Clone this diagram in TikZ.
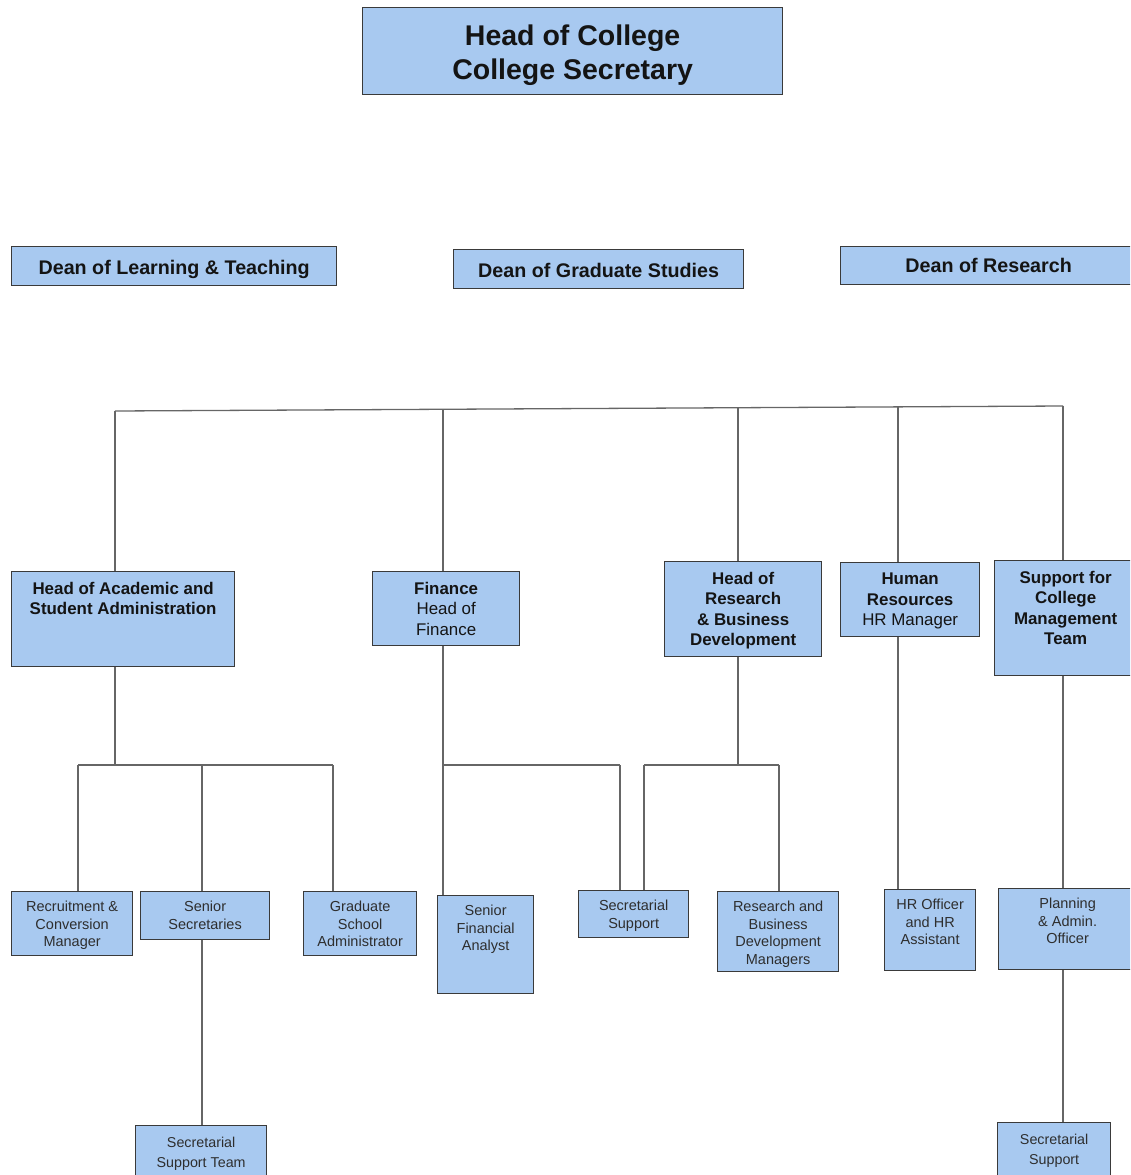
\documentclass[tikz,border=0pt]{standalone}
\usepackage{fontspec}
\setmainfont{Liberation Sans}
\usepackage{xcolor}
\usetikzlibrary{backgrounds}
\definecolor{boxfill}{HTML}{A8C9F0}
\definecolor{boxline}{HTML}{3A3A3A}
\definecolor{linkgray}{HTML}{666666}
\definecolor{textdark}{HTML}{141414}
\definecolor{textgray}{HTML}{2E2E2E}
\newcommand{\headfont}{\fontsize{28.5}{33.5}\selectfont\bfseries}
\newcommand{\deanfont}{\fontsize{19.7}{23}\selectfont\bfseries}
\newcommand{\midfont}{\fontsize{16.9}{20.3}\selectfont}
\newcommand{\lowfont}{\fontsize{14.5}{17.5}\selectfont}
\newcommand{\bottomfont}{\fontsize{14.3}{20}\selectfont}

\begin{document}
\begin{tikzpicture}[x=1pt,y=-1pt,
    unit/.style={draw=boxline,fill=boxfill,line width=1.3pt,inner sep=0pt,anchor=north west},
    headtext/.style={anchor=north,align=center,inner sep=0pt,yshift=-17.7pt,text=textdark,font=\headfont},
    deantext/.style={anchor=north,inner sep=0pt,yshift=-14.5pt,text=textdark,font=\deanfont},
    midtext/.style={anchor=north,align=center,inner sep=0pt,yshift=-11pt,text=textdark,font=\midfont},
    lowtext/.style={anchor=north,align=center,inner sep=0pt,yshift=-10pt,text=textgray,font=\lowfont},
    bottomtext/.style={lowtext,yshift=-2pt,font=\bottomfont}]
    \useasboundingbox (0,0) rectangle (1130,1175);
    \clip (0,0) rectangle (1130,1175);

    % bus lines and joints
    \coordinate (t1) at (115,411);
    \coordinate (t2) at (443,409.3);
    \coordinate (t3) at (738,407.7);
    \coordinate (t4) at (898,406.9);
    \coordinate (t5) at (1063,406);
    \coordinate (m1) at (115,765);
    \coordinate (m1a) at (78,765);
    \coordinate (m1b) at (202,765);
    \coordinate (m1c) at (333,765);
    \coordinate (m2) at (443,765);
    \coordinate (m2b) at (620,765);
    \coordinate (m3) at (738,765);
    \coordinate (m3a) at (644,765);
    \coordinate (m3b) at (779,765);

    % top
    \node[unit,minimum width=420,minimum height=87,
        label={[headtext]north:{Head of College\\College Secretary}}] (head) at (362,7) {};

    % deans
    \node[unit,minimum width=325,minimum height=39,
        label={[deantext]north:{Dean of Learning \& Teaching}}] (dlt) at (11,246) {};
    \node[unit,minimum width=290,minimum height=39,
        label={[deantext]north:{Dean of Graduate Studies}}] (dgs) at (453,249) {};
    \node[unit,minimum width=296,minimum height=38,
        label={[deantext,yshift=2.6pt]north:{Dean of Research}}] (dr) at (840,246) {};

    % heads of sections
    \node[unit,minimum width=223,minimum height=95,
        label={[midtext]north:{\bfseries Head of Academic and\\\bfseries Student Administration}}] (hasa) at (11,571) {};
    \node[unit,minimum width=147,minimum height=74,
        label={[midtext]north:{\bfseries Finance\\Head of\\Finance}}] (fin) at (372,571) {};
    \node[unit,minimum width=157,minimum height=95,
        label={[midtext]north:{\bfseries Head of\\\bfseries Research\\\bfseries \& Business\\\bfseries Development}}] (hrbd) at (664,561) {};
    \node[unit,minimum width=139,minimum height=74,
        label={[midtext]north:{\bfseries Human\\\bfseries Resources\\HR Manager}}] (hr) at (840,562) {};
    \node[unit,minimum width=142,minimum height=115,
        label={[midtext]north:{\bfseries Support for\\\bfseries College\\\bfseries Management\\\bfseries Team}}] (scmt) at (994,560) {};

    % staff
    \node[unit,minimum width=121,minimum height=64,
        label={[lowtext]north:{Recruitment \&\\Conversion\\Manager}}] (rcm) at (11,891) {};
    \node[unit,minimum width=129,minimum height=48,
        label={[lowtext]north:{Senior\\Secretaries}}] (sen) at (140,891) {};
    \node[unit,minimum width=113,minimum height=64,
        label={[lowtext]north:{Graduate\\School\\Administrator}}] (gsa) at (303,891) {};
    \node[unit,minimum width=96,minimum height=98,
        label={[lowtext]north:{Senior\\Financial\\Analyst}}] (sfa) at (437,895) {};
    \node[unit,minimum width=110,minimum height=47,
        label={[lowtext]north:{Secretarial\\Support}}] (ssf) at (578,890) {};
    \node[unit,minimum width=121,minimum height=80,
        label={[lowtext]north:{Research and\\Business\\Development\\Managers}}] (rbdm) at (717,891) {};
    \node[unit,minimum width=91,minimum height=81,
        label={[lowtext]north:{HR Officer\\and HR\\Assistant}}] (hro) at (884,889) {};
    \node[unit,minimum width=138,minimum height=81,
        label={[lowtext]north:{Planning\\\& Admin.\\Officer}}] (pao) at (998,888) {};
    \node[unit,minimum width=131,minimum height=70,
        label={[bottomtext]north:{Secretarial\\Support Team}}] (sst) at (135,1125) {};
    \node[unit,minimum width=113,minimum height=70,
        label={[bottomtext]north:{Secretarial\\Support}}] (ssp) at (997,1122) {};

    % connectors
    \begin{scope}[on background layer,every edge/.style={draw=linkgray,line width=1.3pt}]
        \path (t1) edge (t5)
              (t1) edge (t1 |- hasa.north)
              (t2) edge (t2 |- fin.north)
              (t3) edge (t3 |- hrbd.north)
              (t4) edge (t4 |- hr.north)
              (t5) edge (t5 |- scmt.north);
        \path (hasa.south -| m1) edge (m1)
              (m1a) edge (m1c)
              (m1a) edge (m1a |- rcm.north)
              (m1b) edge (m1b |- sen.north)
              (m1c) edge (m1c |- gsa.north)
              (fin.south -| m2) edge (m2 |- sfa.north)
              (m2) edge (m2b)
              (m2b) edge (m2b |- ssf.north)
              (hrbd.south -| m3) edge (m3)
              (m3a) edge (m3b)
              (m3a) edge (m3a |- ssf.north)
              (m3b) edge (m3b |- rbdm.north)
              (hr.south -| t4) edge (t4 |- hro.north)
              (scmt.south -| t5) edge (t5 |- pao.north)
              (pao.south -| t5) edge (t5 |- ssp.north)
              (sen.south -| m1b) edge (m1b |- sst.north);
    \end{scope}
\end{tikzpicture}
\end{document}
